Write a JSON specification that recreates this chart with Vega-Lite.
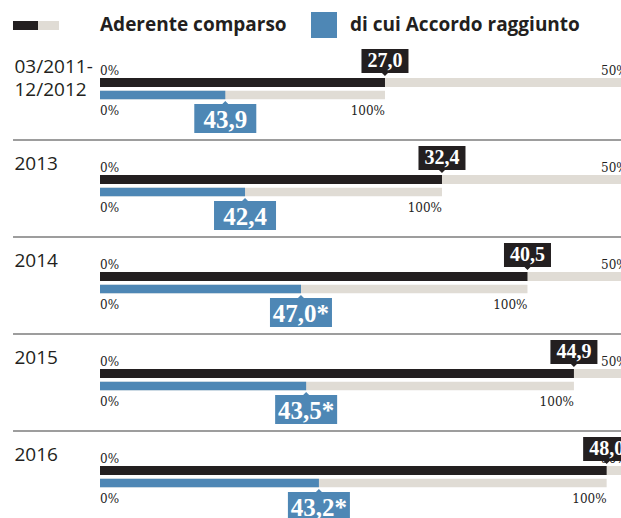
{
  "$schema": "https://vega.github.io/schema/vega-lite/v6.json",
  "width": 521,
  "height": 518,
  "autosize": {"type": "none"},
  "padding": {"left": 100, "top": 0, "right": 0, "bottom": 0},
  "background": "white",
  "config": {"view": {"stroke": null}},
  "data": {
    "values": [
      {"periodo": "03/2011-12/2012", "aderente": 27.0, "accordo": 43.9, "accordo_sul_totale": 11.87, "nota": ""},
      {"periodo": "2013", "aderente": 32.4, "accordo": 42.4, "accordo_sul_totale": 13.74, "nota": ""},
      {"periodo": "2014", "aderente": 40.5, "accordo": 47.0, "accordo_sul_totale": 19.04, "nota": "*"},
      {"periodo": "2015", "aderente": 44.9, "accordo": 43.5, "accordo_sul_totale": 19.53, "nota": "*"},
      {"periodo": "2016", "aderente": 48.0, "accordo": 43.2, "accordo_sul_totale": 20.74, "nota": "*"}
    ]
  },
  "encoding": {
    "y": {
      "field": "periodo",
      "type": "nominal",
      "sort": null,
      "scale": {
        "domain": ["03/2011-12/2012", "2013", "2014", "2015", "2016"],
        "range": [43, 528],
        "paddingInner": 0,
        "paddingOuter": 0
      },
      "axis": {
        "title": null,
        "domain": false,
        "ticks": false,
        "grid": false,
        "labelAlign": "left",
        "labelPadding": 86,
        "labelBaseline": "alphabetic",
        "labelOffset": -18.5,
        "labelFont": "Open Sans",
        "labelFontSize": 19,
        "labelColor": "#231f20",
        "labelLineHeight": 23,
        "labelOverlap": false,
        "labelBound": false,
        "labelLimit": 200,
        "labelExpr": "split(replace(datum.label, '-', '-\\n'), '\\n')"
      }
    }
  },
  "layer": [
    {
      "transform": [{"filter": "datum.periodo !== '03/2011-12/2012'"}],
      "mark": {"type": "rule", "color": "#7d7d7d", "strokeWidth": 1.5, "yOffset": -48.5},
      "encoding": {
        "x": {"datum": -8.24, "type": "quantitative", "axis": null},
        "x2": {"datum": 49.36}
      }
    },
    {
      "mark": {"type": "bar", "color": "#e0dcd5", "height": 9, "yOffset": -9},
      "encoding": {
        "x": {"datum": 0, "type": "quantitative", "scale": {"domain": [0, 49.36], "nice": false, "zero": true}, "axis": null},
        "x2": {"datum": 50}
      }
    },
    {
      "mark": {"type": "bar", "height": 9, "yOffset": -9},
      "encoding": {
        "x": {"field": "aderente", "type": "quantitative", "axis": null},
        "color": {
          "datum": "Aderente comparso",
          "type": "nominal",
          "scale": {"domain": ["Aderente comparso", "di cui Accordo raggiunto"], "range": ["#231f20", "#4e87b5"]},
          "legend": {
            "title": null,
            "orient": "none",
            "legendX": -43,
            "legendY": 8,
            "direction": "horizontal",
            "symbolSize": 676,
            "symbolStrokeWidth": 8,
            "labelOffset": 9,
            "columnPadding": 8,
            "padding": 0,
            "labelFont": "Open Sans",
            "labelFontSize": 19,
            "labelFontWeight": "bold",
            "labelColor": "#231f20",
            "labelLimit": 400,
            "encode": {
              "symbols": {
                "update": {
                  "shape": [
                    {"test": "datum.value === 'Aderente comparso'", "value": "M-4.385,0H-1.462V0.077H-4.385ZM-1.462,-1L-1.462,-1M-1.462,1L-1.462,1"},
                    {"value": "M-1,-1H1V1H-1Z"}
                  ],
                  "fillOpacity": [
                    {"test": "datum.value === 'Aderente comparso'", "value": 0},
                    {"value": 1}
                  ],
                  "stroke": [
                    {"test": "datum.value === 'Aderente comparso'", "value": {"gradient": "linear", "x1": 0, "y1": 0, "x2": 1, "y2": 0, "stops": [{"offset": 0, "color": "#231f20"}, {"offset": 0.553, "color": "#231f20"}, {"offset": 0.553, "color": "#e0dcd5"}, {"offset": 1, "color": "#e0dcd5"}]}},
                    {"value": "transparent"}
                  ],
                  "strokeWidth": {"value": 8},
                  "opacity": {"value": 1}
                }
              }
            }
          }
        }
      }
    },
    {
      "mark": {"type": "bar", "color": "#e0dcd5", "height": 8.5, "yOffset": 3.5},
      "encoding": {
        "x": {"field": "aderente", "type": "quantitative", "axis": null}
      }
    },
    {
      "mark": {"type": "bar", "height": 8.5, "yOffset": 3.5},
      "encoding": {
        "x": {"field": "accordo_sul_totale", "type": "quantitative", "axis": null},
        "color": {"datum": "di cui Accordo raggiunto", "type": "nominal", "legend": {"title": null}}
      }
    },
    {
      "mark": {"type": "text", "text": "0%", "align": "left", "baseline": "alphabetic", "dy": -17, "font": "DejaVu Serif", "fontSize": 12, "color": "#222222"},
      "encoding": {"x": {"datum": 0, "type": "quantitative", "axis": null}}
    },
    {
      "mark": {"type": "text", "text": "50%", "align": "right", "baseline": "alphabetic", "dy": -17, "font": "DejaVu Serif", "fontSize": 12, "color": "#222222"},
      "encoding": {"x": {"datum": 50, "type": "quantitative", "axis": null}}
    },
    {
      "mark": {"type": "text", "text": "0%", "align": "left", "baseline": "alphabetic", "dy": 23.5, "font": "DejaVu Serif", "fontSize": 12, "color": "#222222"},
      "encoding": {"x": {"datum": 0, "type": "quantitative", "axis": null}}
    },
    {
      "mark": {"type": "text", "text": "100%", "align": "right", "baseline": "alphabetic", "dy": 23.5, "font": "DejaVu Serif", "fontSize": 12, "color": "#222222"},
      "encoding": {"x": {"field": "aderente", "type": "quantitative", "axis": null}}
    },
    {
      "mark": {"type": "point", "filled": true, "opacity": 1, "strokeWidth": 0, "size": 625, "color": "#231f20", "yOffset": -30.5, "shape": "M-1.88,-0.96H1.88V0.96H0.24L0,1.2L-0.24,0.96H-1.88Z"},
      "encoding": {"x": {"field": "aderente", "type": "quantitative", "axis": null}}
    },
    {
      "mark": {"type": "text", "align": "center", "baseline": "alphabetic", "dy": -24.5, "font": "Liberation Serif", "fontWeight": "bold", "fontSize": 20, "color": "#ffffff", "text": {"expr": "replace(format(datum.aderente, '.1f'), '.', ',')"}},
      "encoding": {"x": {"field": "aderente", "type": "quantitative", "axis": null}}
    },
    {
      "mark": {"type": "point", "filled": true, "opacity": 1, "strokeWidth": 0, "size": 625, "color": "#4e87b5", "yOffset": 27, "shape": "M-2.48,-1.16H-0.24L0,-1.4L0.24,-1.16H2.48V1.16H-2.48Z"},
      "encoding": {"x": {"field": "accordo_sul_totale", "type": "quantitative", "axis": null}}
    },
    {
      "mark": {"type": "text", "align": "center", "baseline": "alphabetic", "dy": 36.5, "font": "Liberation Serif", "fontWeight": "bold", "fontSize": 25, "color": "#ffffff", "text": {"expr": "replace(format(datum.accordo, '.1f'), '.', ',') + datum.nota"}},
      "encoding": {"x": {"field": "accordo_sul_totale", "type": "quantitative", "axis": null}}
    }
  ]
}
